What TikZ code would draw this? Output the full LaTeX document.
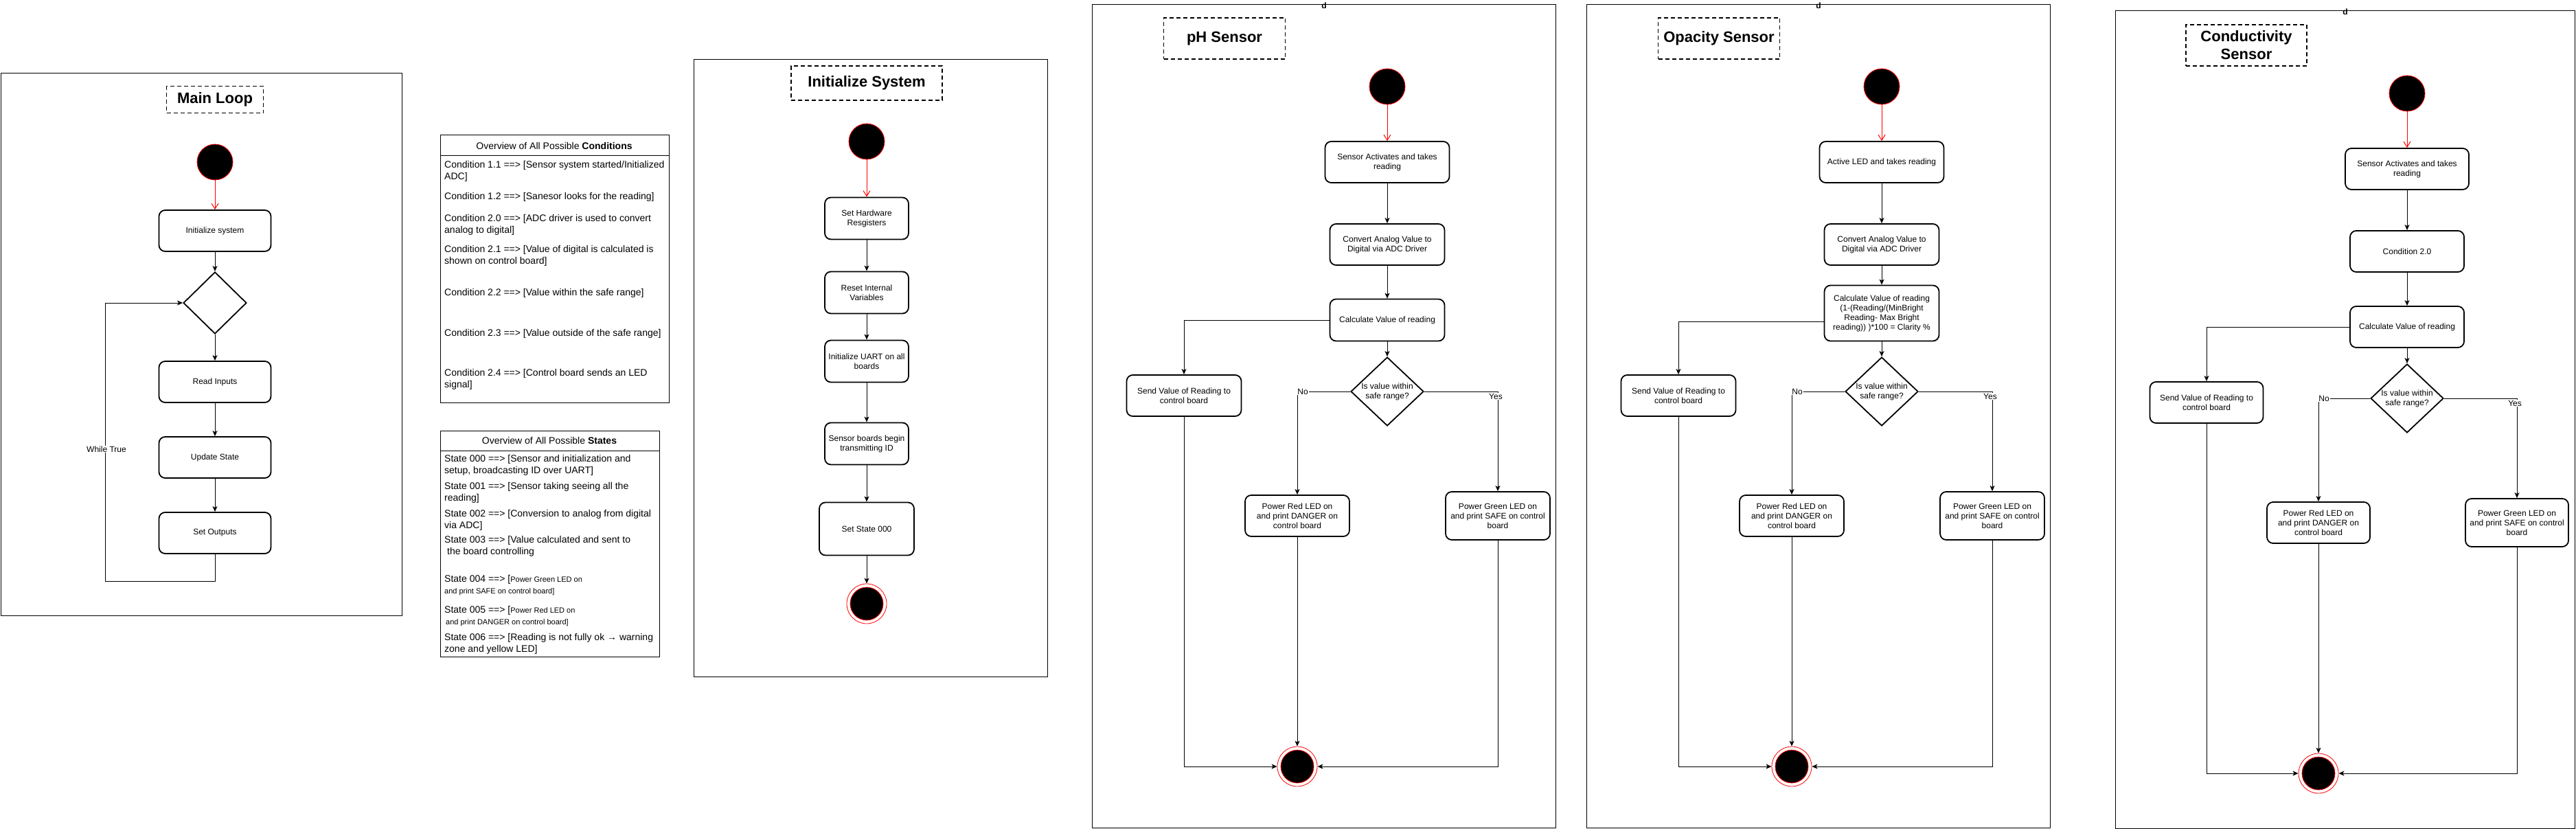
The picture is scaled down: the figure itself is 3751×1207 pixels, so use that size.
\documentclass[tikz,border=0pt]{standalone}
\usepackage{fontspec}
\setmainfont{Liberation Sans}
\usetikzlibrary{arrows.meta,shapes.geometric}

\newcommand{\boxfs}{\fontsize{12}{14}\selectfont}
\newcommand{\listfs}{\fontsize{14}{17}\selectfont}
\newcommand{\notefs}{\fontsize{11}{13}\selectfont}
\newcommand{\titlefs}{\fontsize{22}{26}\selectfont\bfseries}

\tikzset{
  panel/.style={draw, line width=1pt},
  heading/.style={draw, line width=1.8pt, dash pattern=on 6pt off 4pt, font=\titlefs, align=center, inner sep=0pt, minimum height=60pt},
  activity/.style={draw, line width=1.8pt, rounded corners=9pt, font=\boxfs, align=center, inner sep=2pt, minimum height=60pt},
  startnode/.style={circle, fill=black, draw=red, line width=0.8pt, minimum size=52pt, inner sep=0pt},
  endnode/.style={circle, draw=red, line width=0.8pt, minimum size=58pt, inner sep=0pt,
    path picture={\filldraw[fill=black, draw=red, line width=0.8pt] (path picture bounding box.center) circle (24pt);}},
  decision/.style={diamond, draw, line width=1.8pt, inner sep=0pt, minimum width=106pt, minimum height=100pt},
  flow/.style={line width=1pt, -{Stealth[length=8pt,width=7pt,inset=2pt]}},
  startflow/.style={red, line width=1pt, -{Straight Barb[length=8pt,width=10pt]}},
  branch/.style={font=\boxfs, fill=white, inner sep=1pt},
  entry/.style={font=\listfs, anchor=west, align=left, inner sep=0pt},
  panelmark/.style={font=\bfseries\boxfs, inner sep=0pt}
}

\begin{document}
\begin{tikzpicture}[x=1pt,y=-1pt]
\useasboundingbox (0,0) rectangle (3751,1207);

\draw[panel] (1,106) rectangle (585,896);
\node[heading, minimum width=141pt, minimum height=39pt] (mltitle) at (313,145) {Main Loop};
\node[startnode] (mlstart) at (313,236) {};
\node[activity, minimum width=163pt] (mlinit) at (313,336) {Initialize system};
\node[decision, minimum width=92pt, minimum height=90pt] (mldec) at (313,441) {};
\node[activity, minimum width=163pt] (mlread) at (313,556) {Read Inputs};
\node[activity, minimum width=163pt] (mlupd) at (313,666) {Update State};
\node[activity, minimum width=163pt] (mlout) at (313,776) {Set Outputs};
\coordinate (mlloop) at (153,846);
\draw[startflow] (mlstart) -- (mlinit);
\draw[flow] (mlinit) -- (mldec);
\draw[flow] (mldec) -- (mlread);
\draw[flow] (mlread) -- (mlupd);
\draw[flow] (mlupd) -- (mlout);
\draw[flow] (mlout.south) |- (mlloop) |- (mldec.west);
\node[branch] (mlwhile) at (155,654) {While True};

\draw[panel] (641,196) rectangle (974,586);
\draw[panel] (641,226) -- (974,226);
\node[font=\listfs] (condhead) at (807,212) {Overview of All Possible \textbf{Conditions}};
\node[entry] (c11) at (647,249) {Condition 1.1 ==> [Sensor system started/Initialized\\ADC]};
\node[entry] (c12) at (647,287) {Condition 1.2 ==> [Sanesor looks for the reading]};
\node[entry] (c20) at (647,327) {Condition 2.0 ==> [ADC driver is used to convert\\analog to digital]};
\node[entry] (c21) at (647,372) {Condition 2.1 ==> [Value of digital is calculated is\\shown on control board]};
\node[entry] (c22) at (647,427) {Condition 2.2 ==> [Value within the safe range]};
\node[entry] (c23) at (647,486) {Condition 2.3 ==> [Value outside of the safe range]};
\node[entry] (c24) at (647,552) {Condition 2.4 ==> [Control board sends an LED\\signal]};

\draw[panel] (641,627) rectangle (960,956);
\draw[panel] (641,656) -- (960,656);
\node[font=\listfs] (statehead) at (800,641) {Overview of All Possible \textbf{States}};
\node[entry] (s000) at (647,677) {State 000 ==> [Sensor and initialization and\\setup, broadcasting ID over UART]};
\node[entry] (s001) at (647,717) {State 001 ==> [Sensor taking seeing all the\\reading]};
\node[entry] (s002) at (647,757) {State 002 ==> [Conversion to analog from digital\\via ADC]};
\node[entry] (s003) at (647,795) {State 003 ==> [Value calculated and sent to\\\hspace*{4pt}the board controlling};
\node[entry] (s004) at (647,852) {State 004 ==> [{\notefs Power Green LED on}\\{\notefs and print SAFE on control board]}};
\node[entry] (s005) at (647,897) {State 005 ==> [{\notefs Power Red LED on}\\{\notefs\hspace*{2pt}and print DANGER on control board]}};
\node[entry] (s006) at (647,937) {State 006 ==> [Reading is not fully ok → warning\\zone and yellow LED]};

\draw[panel] (1010,86) rectangle (1525,985);
\node[heading, minimum width=220pt, minimum height=50pt] (istitle) at (1262,121) {Initialize System};
\node[startnode] (isstart) at (1262,206) {};
\node[activity, minimum width=122pt, minimum height=61pt] (ishw) at (1262,318) {Set Hardware\\Resgisters};
\node[activity, minimum width=122pt, minimum height=61pt] (isrst) at (1262,426) {Reset Internal\\Variables};
\node[activity, minimum width=122pt, minimum height=61pt] (isuart) at (1262,526) {Initialize UART on all\\boards};
\node[activity, minimum width=122pt, minimum height=61pt] (isid) at (1262,646) {Sensor boards begin\\transmitting ID};
\node[activity, minimum width=138pt, minimum height=77pt] (isstate) at (1262,770) {Set State 000};
\node[endnode] (isend) at (1262,879) {};
\draw[startflow] (isstart) -- (ishw);
\draw[flow] (ishw) -- (isrst);
\draw[flow] (isrst) -- (isuart);
\draw[flow] (isuart) -- (isid);
\draw[flow] (isid) -- (isstate);
\draw[flow] (isstate) -- (isend);

\draw[panel] (1590,7) rectangle (2265,1205);
\node[panelmark] (phd) at (1928,8) {d};
\node[heading, minimum width=177pt] (phtitle) at (1783,56) {pH Sensor};
\node[startnode] (phstart) at (2020,126) {};
\node[activity, minimum width=181pt] (phact) at (2020,236) {Sensor Activates and takes\\reading};
\node[activity, minimum width=167pt] (phconv) at (2020,356) {Convert Analog Value to\\Digital via ADC Driver};
\node[activity, minimum width=167pt, minimum height=61pt] (phcalc) at (2020,466) {Calculate Value of reading};
\node[decision, label={[font=\boxfs, align=center]center:Is value within\\safe range?}] (phdec) at (2020,570) {};
\node[activity, minimum width=167pt] (phsend) at (1724,576) {Send Value of Reading to\\control board};
\node[activity, minimum width=152pt] (phred) at (1889,751) {Power Red LED on\\and print DANGER on\\control board};
\node[activity, minimum width=152pt, minimum height=70pt] (phgreen) at (2181,751) {Power Green LED on\\and print SAFE on control\\board};
\node[endnode] (phend) at (1889,1116) {};
\draw[startflow] (phstart) -- (phact);
\draw[flow] (phact) -- (phconv);
\draw[flow] (phconv) -- (phcalc);
\draw[flow] (phcalc) -- (phdec);
\draw[flow] (phcalc.west) -| (phsend.north);
\draw[flow] (phdec.west) -| node[branch, pos=0.5, xshift=8pt] {No} (phred.north);
\draw[flow] (phdec.east) -| node[branch, pos=0.5, xshift=-3pt, yshift=-7pt] {Yes} (phgreen.north);
\draw[flow] (phred) -- (phend);
\draw[flow] (phsend.south) |- (phend.west);
\draw[flow] (phgreen.south) |- (phend.east);

\draw[panel] (2310,7) rectangle (2985,1205);
\node[panelmark] (opd) at (2648,8) {d};
\node[heading, minimum width=177pt] (optitle) at (2503,56) {Opacity Sensor};
\node[startnode] (opstart) at (2740,126) {};
\node[activity, minimum width=181pt] (opact) at (2740,236) {Active LED and takes reading};
\node[activity, minimum width=167pt] (opconv) at (2740,356) {Convert Analog Value to\\Digital via ADC Driver};
\node[activity, minimum width=167pt, minimum height=81pt] (opcalc) at (2740,456) {Calculate Value of reading\\(1-(Reading/(MinBright\\Reading- Max Bright\\reading)) )*100 = Clarity \%};
\node[decision, label={[font=\boxfs, align=center]center:Is value within\\safe range?}] (opdec) at (2740,570) {};
\node[activity, minimum width=167pt] (opsend) at (2444,576) {Send Value of Reading to\\control board};
\node[activity, minimum width=152pt] (opred) at (2609,751) {Power Red LED on\\and print DANGER on\\control board};
\node[activity, minimum width=152pt, minimum height=70pt] (opgreen) at (2901,751) {Power Green LED on\\and print SAFE on control\\board};
\node[endnode] (opend) at (2609,1116) {};
\draw[startflow] (opstart) -- (opact);
\draw[flow] (opact) -- (opconv);
\draw[flow] (opconv) -- (opcalc);
\draw[flow] (opcalc) -- (opdec);
\draw[flow] ([yshift=-12pt]opcalc.west) -| (opsend.north);
\draw[flow] (opdec.west) -| node[branch, pos=0.5, xshift=8pt] {No} (opred.north);
\draw[flow] (opdec.east) -| node[branch, pos=0.5, xshift=-3pt, yshift=-7pt] {Yes} (opgreen.north);
\draw[flow] (opred) -- (opend);
\draw[flow] (opsend.south) |- (opend.west);
\draw[flow] (opgreen.south) |- (opend.east);

\draw[panel] (3080,16) rectangle (3749,1206);
\node[panelmark] (cod) at (3415,17) {d};
\node[heading, minimum width=176pt] (cotitle) at (3271,66) {Conductivity\\Sensor};
\node[startnode] (costart) at (3505,136) {};
\node[activity, minimum width=180pt] (coact) at (3505,246) {Sensor Activates and takes\\reading};
\node[activity, minimum width=166pt] (cocond) at (3505,366) {Condition 2.0};
\node[activity, minimum width=166pt] (cocalc) at (3505,476) {Calculate Value of reading};
\node[decision, label={[font=\boxfs, align=center]center:Is value within\\safe range?}] (codec) at (3505,580) {};
\node[activity, minimum width=165pt] (cosend) at (3213,586) {Send Value of Reading to\\control board};
\node[activity, minimum width=150pt] (cored) at (3376,761) {Power Red LED on\\and print DANGER on\\control board};
\node[activity, minimum width=150pt, minimum height=70pt] (cogreen) at (3665,761) {Power Green LED on\\and print SAFE on control\\board};
\node[endnode] (coend) at (3376,1126) {};
\draw[startflow] (costart) -- (coact);
\draw[flow] (coact) -- (cocond);
\draw[flow] (cocond) -- (cocalc);
\draw[flow] (cocalc) -- (codec);
\draw[flow] (cocalc.west) -| (cosend.north);
\draw[flow] (codec.west) -| node[branch, pos=0.5, xshift=8pt] {No} (cored.north);
\draw[flow] (codec.east) -| node[branch, pos=0.5, xshift=-3pt, yshift=-7pt] {Yes} (cogreen.north);
\draw[flow] (cored) -- (coend);
\draw[flow] (cosend.south) |- (coend.west);
\draw[flow] (cogreen.south) |- (coend.east);
\end{tikzpicture}
\end{document}
